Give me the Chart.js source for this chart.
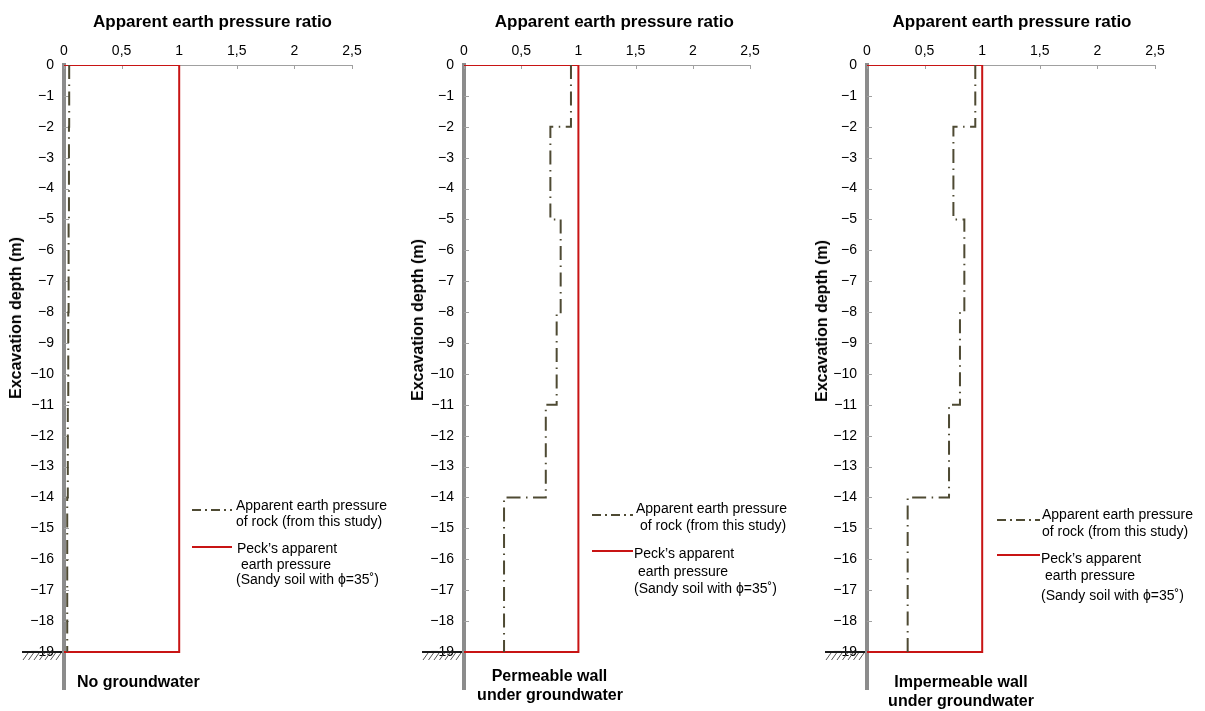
<!DOCTYPE html>
<html>
<head>
<meta charset="utf-8">
<script src="https://cdn.jsdelivr.net/npm/chart.js@4.4.0/dist/chart.umd.min.js"></script>
<style>
  html, body { margin: 0; padding: 0; background: #fff; }
  body { width: 1205px; height: 711px; overflow: hidden; position: relative;
         font-family: "Liberation Sans", Arial, sans-serif; color: #000; }
  .panel { position: absolute; top: 0; height: 711px; }
  .txt { position: absolute; white-space: pre; color: #000; }
  svg.sample { position: absolute; overflow: visible; }
</style>
</head>
<body>
<div class="panel" id="p1" style="left:0px;width:400px;"><canvas id="c1" width="400" height="711"></canvas></div>
<div class="panel" id="p2" style="left:400px;width:400px;"><canvas id="c2" width="400" height="711"></canvas></div>
<div class="panel" id="p3" style="left:803px;width:400px;"><canvas id="c3" width="400" height="711"></canvas></div>
<script>
// Soil/rock layers of the excavation (depth in m, negative downwards)
const layerTops    = [0, -2, -5, -8, -11, -14];
const layerBottoms = [-2, -5, -8, -11, -14, -19];

// Apparent earth pressure ratio of rock for each layer
const ratioNoGroundwater = [0.045, 0.043, 0.040, 0.037, 0.033, 0.028];
const ratioPermeable     = [0.935, 0.755, 0.845, 0.81, 0.715, 0.35];
const ratioImpermeable   = [0.94, 0.75, 0.845, 0.807, 0.712, 0.353];

// Peck's envelope (sandy soil, phi = 35 deg)
const peckRatio = 1.0;
const excavationDepth = -19;

// Axis ticks
const xTickValues = [0, 0.5, 1, 1.5, 2, 2.5];
const xTickLabels = ['0', '0,5', '1', '1,5', '2', '2,5'];
const depthTicks = [0, -1, -2, -3, -4, -5, -6, -7, -8, -9, -10, -11, -12, -13, -14, -15, -16, -17, -18, -19];

// Text
const xAxisTitle = 'Apparent earth pressure ratio';
const yAxisTitle = 'Excavation depth (m)';
const rockLabel = ['Apparent earth pressure', 'of rock (from this study)'];
const peckLabel = ['Peck\u2019s apparent', ' earth pressure', '(Sandy soil with \u03d5=35\u02da)'];
const captions = [['No groundwater'], ['Permeable wall', 'under groundwater'], ['Impermeable wall', 'under groundwater']];

const ROCK_COLOR = '#4e4a33';
const PECK_COLOR = '#c81414';
const ROCK_DASH = [14, 5.5, 1.5, 5.5];

Chart.defaults.font.family = '"Liberation Sans", Arial, sans-serif';
Chart.defaults.font.size = 14;
Chart.defaults.color = '#000';

function stepPoints(ratios) {
  const pts = [];
  ratios.forEach((r, i) => {
    pts.push({ x: r, y: layerTops[i] });
    pts.push({ x: r, y: layerBottoms[i] });
  });
  return pts;
}

function peckPoints() {
  return [
    { x: 0, y: 0 },
    { x: peckRatio, y: 0 },
    { x: peckRatio, y: excavationDepth },
    { x: 0, y: excavationDepth }
  ];
}

// Inside tick marks and the ground symbol at the excavation bottom
const decorations = {
  id: 'decorations',
  beforeDatasetsDraw(chart) {
    const { ctx, chartArea, scales } = chart;
    ctx.save();
    ctx.strokeStyle = '#a0a0a0';
    ctx.lineWidth = 1;
    ctx.beginPath();
    xTickValues.forEach(v => {
      const px = Math.round(scales.x.getPixelForValue(v)) + 0.5;
      ctx.moveTo(px, chartArea.top);
      ctx.lineTo(px, chartArea.top + 4);
    });
    depthTicks.forEach(v => {
      const py = Math.round(scales.y.getPixelForValue(v)) + 0.5;
      ctx.moveTo(chartArea.left, py);
      ctx.lineTo(chartArea.left + 5, py);
    });
    ctx.stroke();
    ctx.restore();
  },
  afterDraw(chart) {
    const { ctx, chartArea, scales } = chart;
    const y = Math.round(scales.y.getPixelForValue(excavationDepth));
    const x0 = chartArea.left - 42;
    const x1 = chartArea.left - 2;
    ctx.save();
    ctx.strokeStyle = '#1a1a1a';
    ctx.lineWidth = 2;
    ctx.beginPath();
    ctx.moveTo(x0, y);
    ctx.lineTo(x1, y);
    ctx.stroke();
    ctx.strokeStyle = '#555';
    ctx.lineWidth = 1;
    ctx.beginPath();
    for (let i = 0; i < 7; i++) {
      const hx = x0 + 1 + i * 5.5;
      ctx.moveTo(hx, y + 8);
      ctx.lineTo(hx + 5, y + 1);
    }
    ctx.stroke();
    ctx.restore();
  }
};

function makeChart(canvasId, ratios, padRight) {
  return new Chart(document.getElementById(canvasId), {
    type: 'scatter',
    data: {
      datasets: [
        {
          label: rockLabel.join(' '),
          data: stepPoints(ratios),
          showLine: true,
          borderColor: ROCK_COLOR,
          borderWidth: 2,
          borderDash: ROCK_DASH,
          pointRadius: 0,
          fill: false
        },
        {
          label: peckLabel.join(' '),
          data: peckPoints(),
          showLine: true,
          borderColor: PECK_COLOR,
          borderWidth: 2,
          pointRadius: 0,
          fill: false
        }
      ]
    },
    options: {
      responsive: false,
      animation: false,
      devicePixelRatio: 1,
      layout: { padding: { left: 0, right: padRight, top: 0, bottom: 22 } },
      plugins: { legend: { display: false }, tooltip: { enabled: false } },
      scales: {
        x: {
          type: 'linear',
          position: 'top',
          min: 0,
          max: 2.5,
          afterBuildTicks: s => { s.ticks = xTickValues.map(v => ({ value: v })); },
          afterFit: s => { s.height = 65; },
          grid: { display: false, drawTicks: false },
          border: { display: true, color: '#a0a0a0', width: 1 },
          ticks: {
            padding: 5,
            maxRotation: 0,
            autoSkip: false,
            font: { size: 14 },
            color: '#000',
            callback: (v, i) => xTickLabels[i]
          }
        },
        y: {
          type: 'linear',
          position: 'left',
          min: -20.2,
          max: 0,
          afterBuildTicks: s => { s.ticks = depthTicks.map(v => ({ value: v })); },
          afterFit: s => { s.width = 64; },
          grid: { display: false, drawTicks: false },
          border: { display: true, color: '#8c8c8c', width: 4 },
          ticks: {
            padding: 10,
            autoSkip: false,
            font: { size: 14 },
            color: '#000',
            callback: v => (v === 0 ? '0' : '\u2212' + Math.abs(v))
          }
        }
      }
    },
    plugins: [decorations]
  });
}

makeChart('c1', ratioNoGroundwater, 48);
makeChart('c2', ratioPermeable, 50);
makeChart('c3', ratioImpermeable, 48);

// ---- HTML text: titles, captions, legends ----
function addText(txt, x, baseline, size, bold, align) {
  const d = document.createElement('div');
  d.className = 'txt';
  d.textContent = txt;
  d.style.fontSize = size + 'px';
  d.style.lineHeight = size + 'px';
  d.style.fontWeight = bold ? 'bold' : 'normal';
  d.style.top = (baseline - 0.8465 * size) + 'px';
  d.style.left = x + 'px';
  if (align === 'center') d.style.transform = 'translateX(-50%)';
  document.body.appendChild(d);
  return d;
}

function addVertical(txt, cx, cy, size) {
  const d = document.createElement('div');
  d.className = 'txt';
  d.textContent = txt;
  d.style.fontSize = size + 'px';
  d.style.lineHeight = size + 'px';
  d.style.fontWeight = 'bold';
  d.style.left = cx + 'px';
  d.style.top = cy + 'px';
  d.style.transform = 'translate(-50%, -50%) rotate(-90deg)';
  document.body.appendChild(d);
}

function addSample(x1, x2, y, color, dash) {
  const ns = 'http://www.w3.org/2000/svg';
  const svg = document.createElementNS(ns, 'svg');
  svg.setAttribute('class', 'sample');
  svg.setAttribute('width', x2 - x1);
  svg.setAttribute('height', 4);
  svg.style.left = x1 + 'px';
  svg.style.top = (y - 2) + 'px';
  const ln = document.createElementNS(ns, 'line');
  ln.setAttribute('x1', 0); ln.setAttribute('y1', 2);
  ln.setAttribute('x2', x2 - x1); ln.setAttribute('y2', 2);
  ln.setAttribute('stroke', color);
  ln.setAttribute('stroke-width', 2);
  if (dash) ln.setAttribute('stroke-dasharray', dash.join(','));
  svg.appendChild(ln);
  document.body.appendChild(svg);
}

// Axis titles
[212.5, 614.3, 1012].forEach(cx => addText(xAxisTitle, cx, 27.3, 17, true, 'center'));
[[16, 318], [418, 320], [822, 321]].forEach(([cx, cy]) => addVertical(yAxisTitle, cx, cy, 16));

// Captions under each panel
addText(captions[0][0], 77, 688, 16, true, 'left');
addText(captions[1][0], 549.5, 682, 16, true, 'center');
addText(captions[1][1], 550, 701, 16, true, 'center');
addText(captions[2][0], 961, 688, 16, true, 'center');
addText(captions[2][1], 961, 707, 16, true, 'center');

// Legends
const legendLayouts = [
  { sx1: 192, sx2: 232, rockY: 510, peckY: 547,
    rock: [[236, 510], [236, 526]], peck: [[237, 553], [237, 569], [236, 584]] },
  { sx1: 592, sx2: 633, rockY: 515, peckY: 551,
    rock: [[636, 513], [640, 530]], peck: [[634, 558], [634, 576], [634, 593]] },
  { sx1: 997, sx2: 1040, rockY: 520, peckY: 555,
    rock: [[1042, 519], [1042, 536]], peck: [[1041, 563], [1041, 580], [1041, 600]] }
];
legendLayouts.forEach(L => {
  addSample(L.sx1, L.sx2, L.rockY, ROCK_COLOR, [9, 4, 2, 4]);
  addSample(L.sx1, L.sx2, L.peckY, PECK_COLOR, null);
  rockLabel.forEach((t, i) => addText(t, L.rock[i][0], L.rock[i][1], 14, false, 'left'));
  peckLabel.forEach((t, i) => addText(t, L.peck[i][0], L.peck[i][1], 14, false, 'left'));
});
</script>
</body>
</html>
